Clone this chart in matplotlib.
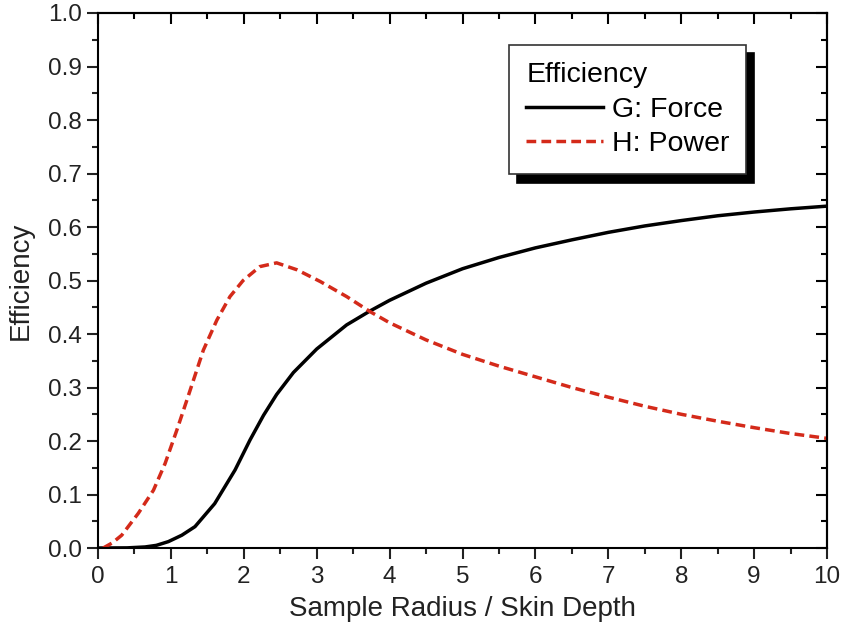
import matplotlib
matplotlib.use("Agg")
import matplotlib.pyplot as plt
from matplotlib.ticker import MultipleLocator

plt.rcParams["font.family"] = ["Liberation Sans", "DejaVu Sans"]

# G: Force (leido do grafico)
x_force = [0, 0.4, 0.645, 0.8, 0.965, 1.15, 1.33, 1.6, 1.88, 2.085, 2.27, 2.45, 2.68, 3.0,
           3.41, 3.73, 4.0, 4.5, 5.0, 5.5, 6.0, 6.5, 7.0, 7.5, 8.0, 8.5, 9.0, 9.5, 10.0]
y_force = [0, 0.0003, 0.002, 0.005, 0.012, 0.024, 0.04, 0.083, 0.146, 0.202, 0.248, 0.287, 0.328, 0.372,
           0.417, 0.443, 0.463, 0.495, 0.522, 0.543, 0.561, 0.576, 0.59, 0.602, 0.612, 0.621, 0.628, 0.634, 0.639]

# H: Power
x_power = [0.07, 0.2, 0.325, 0.553, 0.76, 0.92, 1.08, 1.22, 1.445, 1.63, 1.81, 1.99, 2.22, 2.45,
           2.73, 3.05, 3.41, 3.73, 4.0, 4.5, 5.0, 5.5, 6.0, 6.5, 7.0, 7.5, 8.0, 8.5, 9.0, 9.5, 10.0]
y_power = [0, 0.01, 0.024, 0.065, 0.108, 0.158, 0.22, 0.277, 0.37, 0.426, 0.47, 0.50, 0.526, 0.533,
           0.52, 0.498, 0.47, 0.442, 0.421, 0.389, 0.362, 0.34, 0.32, 0.30, 0.282, 0.265, 0.25, 0.237, 0.225, 0.214, 0.205]

fig = plt.figure(figsize=(8.43, 6.34), dpi=100)
ax = fig.add_axes([0.1163, 0.1356, 0.8647, 0.8439])

ax.plot(x_force, y_force, color="black", lw=2.5, solid_joinstyle="round", label="G: Force")
ax.plot(x_power, y_power, color="#d42a1a", lw=2.5, ls=(0, (2.8, 1.5)), label="H: Power")

ax.set_xlim(0, 10)
ax.set_ylim(0, 1.0)
ax.xaxis.set_major_locator(MultipleLocator(1))
ax.xaxis.set_minor_locator(MultipleLocator(0.5))
ax.yaxis.set_major_locator(MultipleLocator(0.1))
ax.yaxis.set_minor_locator(MultipleLocator(0.05))
ax.yaxis.set_major_formatter(lambda v, p: f"{v:.1f}")

for s in ax.spines.values():
    s.set_linewidth(1.5)

ax.tick_params(which="both", direction="out", width=1.5, labelsize=17.5, colors="#222222")
ax.tick_params(which="major", length=8)
ax.tick_params(which="minor", length=4.5)
ax.tick_params(axis="x", pad=5)

# ticks para dentro em cima e na direita
top = ax.secondary_xaxis("top")
top.xaxis.set_major_locator(MultipleLocator(1))
top.xaxis.set_minor_locator(MultipleLocator(0.5))
top.tick_params(which="both", direction="in", width=1.5, labeltop=False)
top.tick_params(which="major", length=8)
top.tick_params(which="minor", length=4.5)
top.spines["top"].set_linewidth(1.5)

right = ax.secondary_yaxis("right")
right.yaxis.set_major_locator(MultipleLocator(0.1))
right.yaxis.set_minor_locator(MultipleLocator(0.05))
right.tick_params(which="both", direction="in", width=1.5, labelright=False)
right.tick_params(which="major", length=8)
right.tick_params(which="minor", length=4.5)
right.spines["right"].set_linewidth(1.5)

ax.set_xlabel("Sample Radius / Skin Depth", fontsize=20, color="#222222", labelpad=6)
ax.set_ylabel("Efficiency", fontsize=20, color="#222222", labelpad=10)

leg = ax.legend(title="Efficiency", loc="upper right", bbox_to_anchor=(0.889, 0.94),
                fontsize=20.5, title_fontsize=20.5, alignment="left", fancybox=False,
                edgecolor="#333333", framealpha=1, handlelength=2.7, handletextpad=0.3,
                borderpad=0.6, labelspacing=0.3, borderaxespad=0,
                shadow={"color": "black", "alpha": 1, "ox": 6, "oy": -6})
leg.get_frame().set_linewidth(1.2)

plt.savefig("out.png", dpi=100)
